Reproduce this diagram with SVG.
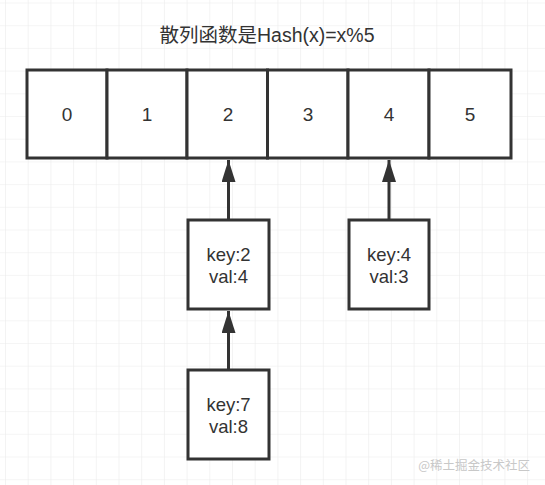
<svg xmlns="http://www.w3.org/2000/svg" width="545" height="485" viewBox="0 0 545 485">
<defs>
<pattern id="grid" x="5" y="2.5" width="22.7" height="22.7" patternUnits="userSpaceOnUse">
<path d="M0 0H22.7M0 0V22.7" fill="none" stroke="#ececec" stroke-width="1.2"/>
</pattern>
<marker id="ah" viewBox="0 0 22 14" refX="22" refY="7" markerWidth="22" markerHeight="14" markerUnits="userSpaceOnUse" orient="auto">
<path d="M0 0L22 7L0 14Z" fill="#333"/>
</marker>
</defs>
<style>
.box{fill:#fff;stroke:#333;stroke-width:3}
.t{font-family:"Liberation Sans","Noto Sans CJK SC",sans-serif;font-size:19px;fill:#333;text-anchor:middle}
.k{font-size:18.5px}
.edge{stroke:#333;stroke-width:3;fill:none}
</style>
<rect width="545" height="485" fill="#fff"/>
<rect width="545" height="485" fill="url(#grid)"/>
<text class="t" x="267" y="42" style="font-size:19.5px">散列函数是Hash(x)=x%5</text>
<g id="cell0"><rect class="box" x="27" y="70" width="80" height="88"/><text class="t" x="67" y="121">0</text></g>
<g id="cell1"><rect class="box" x="107" y="70" width="80" height="88"/><text class="t" x="147" y="121">1</text></g>
<g id="cell2"><rect class="box" x="187" y="70" width="80.5" height="88"/><text class="t" x="228" y="121">2</text></g>
<g id="cell3"><rect class="box" x="267.5" y="70" width="80.5" height="88"/><text class="t" x="308" y="121">3</text></g>
<g id="cell4"><rect class="box" x="348" y="70" width="81" height="88"/><text class="t" x="389" y="121">4</text></g>
<g id="cell5"><rect class="box" x="429" y="70" width="82" height="88"/><text class="t" x="470" y="121">5</text></g>
<g id="node-k2"><rect class="box" x="188" y="220" width="81" height="89"/><text class="t k" x="228.5" y="261">key:2</text><text class="t k" x="228.5" y="282.5">val:4</text></g>
<g id="node-k4"><rect class="box" x="349" y="220" width="80" height="89"/><text class="t k" x="389" y="261">key:4</text><text class="t k" x="389" y="282.5">val:3</text></g>
<g id="node-k7"><rect class="box" x="188" y="370" width="81" height="89"/><text class="t k" x="228.5" y="411">key:7</text><text class="t k" x="228.5" y="432.5">val:8</text></g>
<g id="connectors">
<line class="edge" x1="228.5" y1="219" x2="228.5" y2="160" marker-end="url(#ah)"/>
<line class="edge" x1="389" y1="219" x2="389" y2="160" marker-end="url(#ah)"/>
<line class="edge" x1="228.5" y1="369" x2="228.5" y2="311" marker-end="url(#ah)"/>
</g>
<text x="530" y="469.5" style="font-family:'Noto Sans CJK SC','Noto Sans',sans-serif;font-size:12.5px;fill:#c8c8c8;text-anchor:end">@稀土掘金技术社区</text>
</svg>
